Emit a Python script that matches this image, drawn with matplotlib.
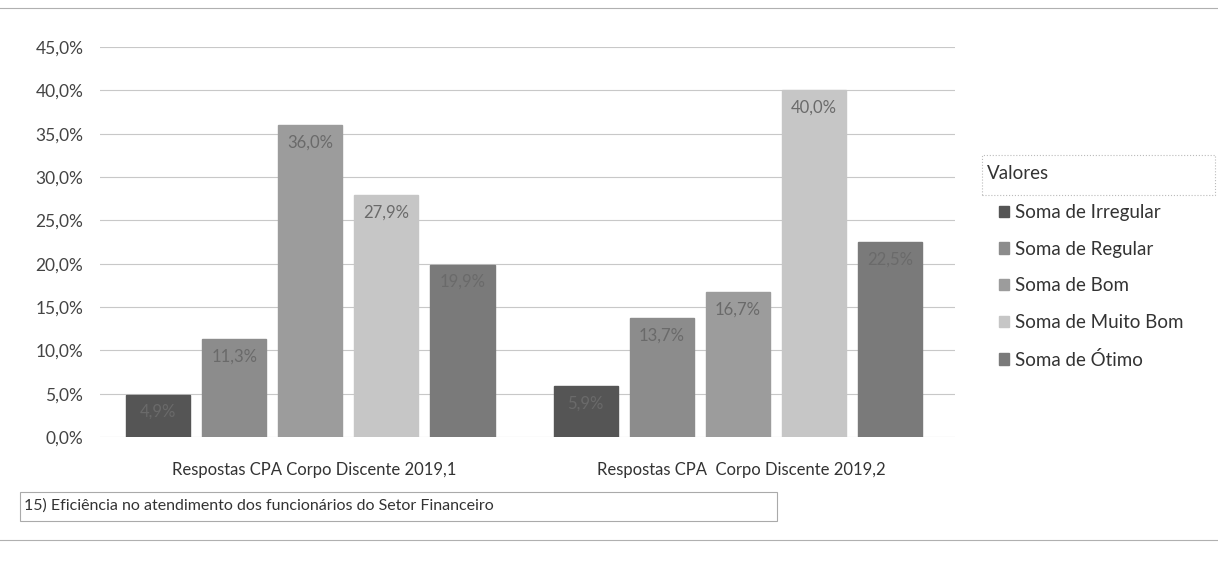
import matplotlib

matplotlib.use("Agg")

import matplotlib.pyplot as plt
import numpy as np
from matplotlib.patches import Rectangle

plt.rcParams["font.family"] = ["Lato", "DejaVu Sans"]

categories = ["Respostas CPA Corpo Discente 2019,1", "Respostas CPA  Corpo Discente 2019,2"]
series_names = ["Soma de Irregular", "Soma de Regular", "Soma de Bom", "Soma de Muito Bom", "Soma de Ótimo"]
irregular = [4.9, 5.9]
regular = [11.3, 13.7]
bom = [36.0, 16.7]
muito_bom = [27.9, 40.0]
otimo = [19.9, 22.5]
series_values = [irregular, regular, bom, muito_bom, otimo]
y_ticks = [0, 5, 10, 15, 20, 25, 30, 35, 40, 45]
colors = ["#555555", "#8c8c8c", "#9c9c9c", "#c6c6c6", "#7a7a7a"]
footer_text = "15) Eficiência no atendimento dos funcionários do Setor Financeiro"

fig = plt.figure(figsize=(12.18, 5.71), dpi=100)
ax = fig.add_axes([100 / 1218, 1 - 437 / 571, 855 / 1218, 390 / 571])

x = np.arange(len(categories))
step = 0.178
width = 0.150
for i, (name, vals, color) in enumerate(zip(series_names, series_values, colors)):
    pos = x + (i - 2) * step - 0.008
    bars = ax.bar(pos, vals, width=width, color=color, label=name, edgecolor=color)
    for b, v in zip(bars, vals):
        ax.text(b.get_x() + b.get_width() / 2, v - 1.1, f"{v:.1f}%".replace(".", ","),
                ha="center", va="top", fontsize=12, color="#6a6a6a")

ax.set_xlim(-0.5, 1.5)
ax.set_ylim(0, 45)
ax.set_yticks(y_ticks)
ax.set_yticklabels([f"{t:.1f}%".replace(".", ",") for t in y_ticks], fontsize=12.5, color="#444444")
ax.set_xticks(x)
ax.set_xticklabels(categories, fontsize=12, color="#333333")
ax.tick_params(axis="y", length=0, pad=12)
ax.tick_params(axis="x", length=0, pad=18)
ax.grid(axis="y", color="#c8c8c8", linewidth=0.8)
ax.set_axisbelow(True)
for s in ax.spines.values():
    s.set_visible(False)

leg = fig.legend(loc="upper left", bbox_to_anchor=(982 / 1218, 1 - 187 / 571), frameon=False,
                 fontsize=13.5, handlelength=0.55, handleheight=0.55, handletextpad=0.3,
                 labelspacing=1.05, labelcolor="#333333")
fig.text(987 / 1218, 1 - 173 / 571, "Valores", fontsize=13.5, color="#333333", va="center")
fig.patches.append(Rectangle((982 / 1218, 1 - 195 / 571), 233 / 1218, 40 / 571,
                             transform=fig.transFigure, fill=False, edgecolor="#bbbbbb",
                             linewidth=0.8, linestyle=":"))

fig.patches.append(Rectangle((20 / 1218, 1 - 521 / 571), 757 / 1218, 29 / 571,
                             transform=fig.transFigure, fill=False, edgecolor="#aaaaaa",
                             linewidth=0.8))
fig.text(24 / 1218, 1 - 506 / 571, footer_text, fontsize=11.5, color="#333333", va="center")

fig.add_artist(plt.Line2D([0, 1], [1 - 8 / 571, 1 - 8 / 571], transform=fig.transFigure,
                          color="#b0b0b0", linewidth=0.8))
fig.add_artist(plt.Line2D([0, 1], [1 - 540 / 571, 1 - 540 / 571], transform=fig.transFigure,
                          color="#b0b0b0", linewidth=0.8))

fig.savefig("out.png", dpi=100)
